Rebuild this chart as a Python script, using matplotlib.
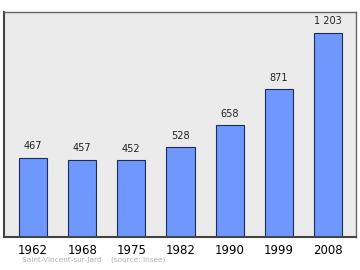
import matplotlib
matplotlib.use("Agg")
import matplotlib.pyplot as plt

# Population data
years = ["1962", "1968", "1975", "1982", "1990", "1999", "2008"]
population = [467, 457, 452, 528, 658, 871, 1203]
labels = ["467", "457", "452", "528", "658", "871", "1 203"]

fig = plt.figure(figsize=(3.6, 2.7), dpi=100)
ax = fig.add_axes([0.011, 0.122, 0.978, 0.834])
ax.set_facecolor("#ebebeb")

x = list(range(len(years)))
ax.bar(x, population, width=0.57, color="#6f98ff", edgecolor="#1f2a55", linewidth=0.8, zorder=2)

for xi, v, lab in zip(x, population, labels):
    ax.text(xi, v + 38, lab, ha="center", va="bottom", fontsize=7, color="#222222")

ax.set_xlim(-0.59, 6.57)
ax.set_ylim(0, 1327)
ax.set_yticks([])
ax.set_xticks(x)
ax.set_xticklabels(years, fontsize=8.5)
ax.tick_params(axis="x", length=0, pad=5)

for side in ["top", "right"]:
    ax.spines[side].set_color("#666666")
    ax.spines[side].set_linewidth(1.0)
for side in ["left", "bottom"]:
    ax.spines[side].set_color("#444444")
    ax.spines[side].set_linewidth(1.5)

fig.text(0.061, 0.026, "Saint-Vincent-sur-Jard    (source: Insee)", fontsize=5.3,
         color="#b0b0b0", ha="left", va="bottom")

fig.savefig("out.png", dpi=100)
